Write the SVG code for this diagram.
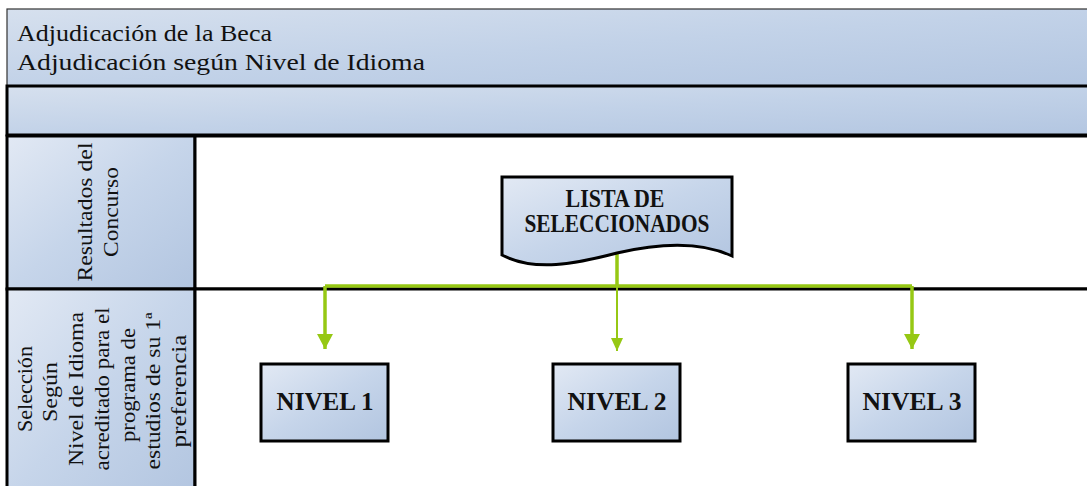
<svg xmlns="http://www.w3.org/2000/svg" width="1087" height="486" viewBox="0 0 1087 486">
<defs>
<linearGradient id="gBand" x1="0" y1="0" x2="1" y2="1">
<stop offset="0" stop-color="#d6e0ee"/>
<stop offset="0.5" stop-color="#c2d2e8"/>
<stop offset="1" stop-color="#b3c6e1"/>
</linearGradient>
<linearGradient id="gBox" x1="0" y1="0" x2="1" y2="1">
<stop offset="0" stop-color="#e2e9f4"/>
<stop offset="0.5" stop-color="#c6d5ea"/>
<stop offset="1" stop-color="#b2c5e0"/>
</linearGradient>
<marker id="ah" viewBox="0 0 16 15" refX="8" refY="15" markerWidth="16" markerHeight="15" markerUnits="userSpaceOnUse">
<path d="M0,0 L16,0 L8,15 Z" fill="#96c814"/>
</marker>
<marker id="ahs" viewBox="0 0 12 13" refX="6" refY="13" markerWidth="12" markerHeight="13" markerUnits="userSpaceOnUse">
<path d="M0,0 L12,0 L6,13 Z" fill="#96c814"/>
</marker>
</defs>
<style>
.band{fill:url(#gBand);}
.box{fill:url(#gBox);stroke:#000;stroke-width:3;}
.hdr{font-family:"Liberation Serif",serif;font-size:23px;fill:#111;}
.lane{font-family:"Liberation Serif",serif;font-size:22px;fill:#111;text-anchor:middle;}
.node{font-family:"Liberation Serif",serif;font-weight:bold;font-size:25px;fill:#111;text-anchor:middle;}
.con{stroke:#96c814;fill:none;stroke-linejoin:round;}
</style>

<g id="header">
<rect x="7" y="9" width="1090" height="77" class="band" stroke="#333" stroke-width="1.2"/>
<text class="hdr" x="17" y="41" textLength="255" lengthAdjust="spacingAndGlyphs">Adjudicación de la Beca</text>
<text class="hdr" x="17" y="70" textLength="408" lengthAdjust="spacingAndGlyphs">Adjudicación según Nivel de Idioma</text>
</g>

<g id="subheader">
<rect x="7" y="86" width="1090" height="49" class="band" stroke="#000" stroke-width="3"/>
</g>

<g id="lane1">
<rect x="7" y="136" width="188" height="153" class="box"/>
<rect x="195" y="136" width="900" height="153" fill="#fff" stroke="#000" stroke-width="3"/>
<g transform="translate(0,212) rotate(-90)">
<text class="lane" x="0" y="92" textLength="139" lengthAdjust="spacingAndGlyphs">Resultados del</text>
<text class="lane" x="0" y="118" textLength="90" lengthAdjust="spacingAndGlyphs">Concurso</text>
</g>
</g>

<g id="lane2">
<rect x="7" y="289" width="188" height="210" class="box"/>
<rect x="195" y="289" width="900" height="210" fill="#fff" stroke="#000" stroke-width="3"/>
<g transform="translate(0,389) rotate(-90)">
<text class="lane" x="0" y="32" textLength="86" lengthAdjust="spacingAndGlyphs">Selección</text>
<text class="lane" x="-3" y="57" textLength="60" lengthAdjust="spacingAndGlyphs">Según</text>
<text class="lane" x="0" y="83" textLength="154" lengthAdjust="spacingAndGlyphs">Nivel de Idioma</text>
<text class="lane" x="0" y="109" textLength="163" lengthAdjust="spacingAndGlyphs">acreditado para el</text>
<text class="lane" x="4" y="135" textLength="114" lengthAdjust="spacingAndGlyphs">programa de</text>
<text class="lane" x="-2" y="160" textLength="157" lengthAdjust="spacingAndGlyphs">estudios de su 1ª</text>
<text class="lane" x="-2" y="186" textLength="113" lengthAdjust="spacingAndGlyphs">preferencia</text>
</g>
</g>

<g id="connectors">
<path class="con" stroke-width="3.5" d="M617,253 V286 M325,286 H912"/>
<path class="con" stroke-width="3.5" d="M325,286 V349" marker-end="url(#ah)"/>
<path class="con" stroke-width="3.5" d="M912,286 V349" marker-end="url(#ah)"/>
<path class="con" stroke-width="2" d="M617,286 V351" marker-end="url(#ahs)"/>
</g>

<g id="lista">
<path class="box" d="M502,177 H732 V256 C700,241 660,243 617,253 C575,264 535,272 502,255 Z"/>
<text class="node" x="615" y="207" font-size="23" textLength="99" lengthAdjust="spacingAndGlyphs">LISTA DE</text>
<text class="node" x="617" y="232" font-size="23" textLength="185" lengthAdjust="spacingAndGlyphs">SELECCIONADOS</text>
</g>

<g id="nivel1">
<rect x="261" y="364" width="127" height="77" class="box"/>
<text class="node" x="325" y="410" textLength="97" lengthAdjust="spacingAndGlyphs">NIVEL 1</text>
</g>
<g id="nivel2">
<rect x="553" y="364" width="127" height="77" class="box"/>
<text class="node" x="617" y="410" textLength="99" lengthAdjust="spacingAndGlyphs">NIVEL 2</text>
</g>
<g id="nivel3">
<rect x="848" y="364" width="127" height="77" class="box"/>
<text class="node" x="912" y="410" textLength="99" lengthAdjust="spacingAndGlyphs">NIVEL 3</text>
</g>
</svg>
